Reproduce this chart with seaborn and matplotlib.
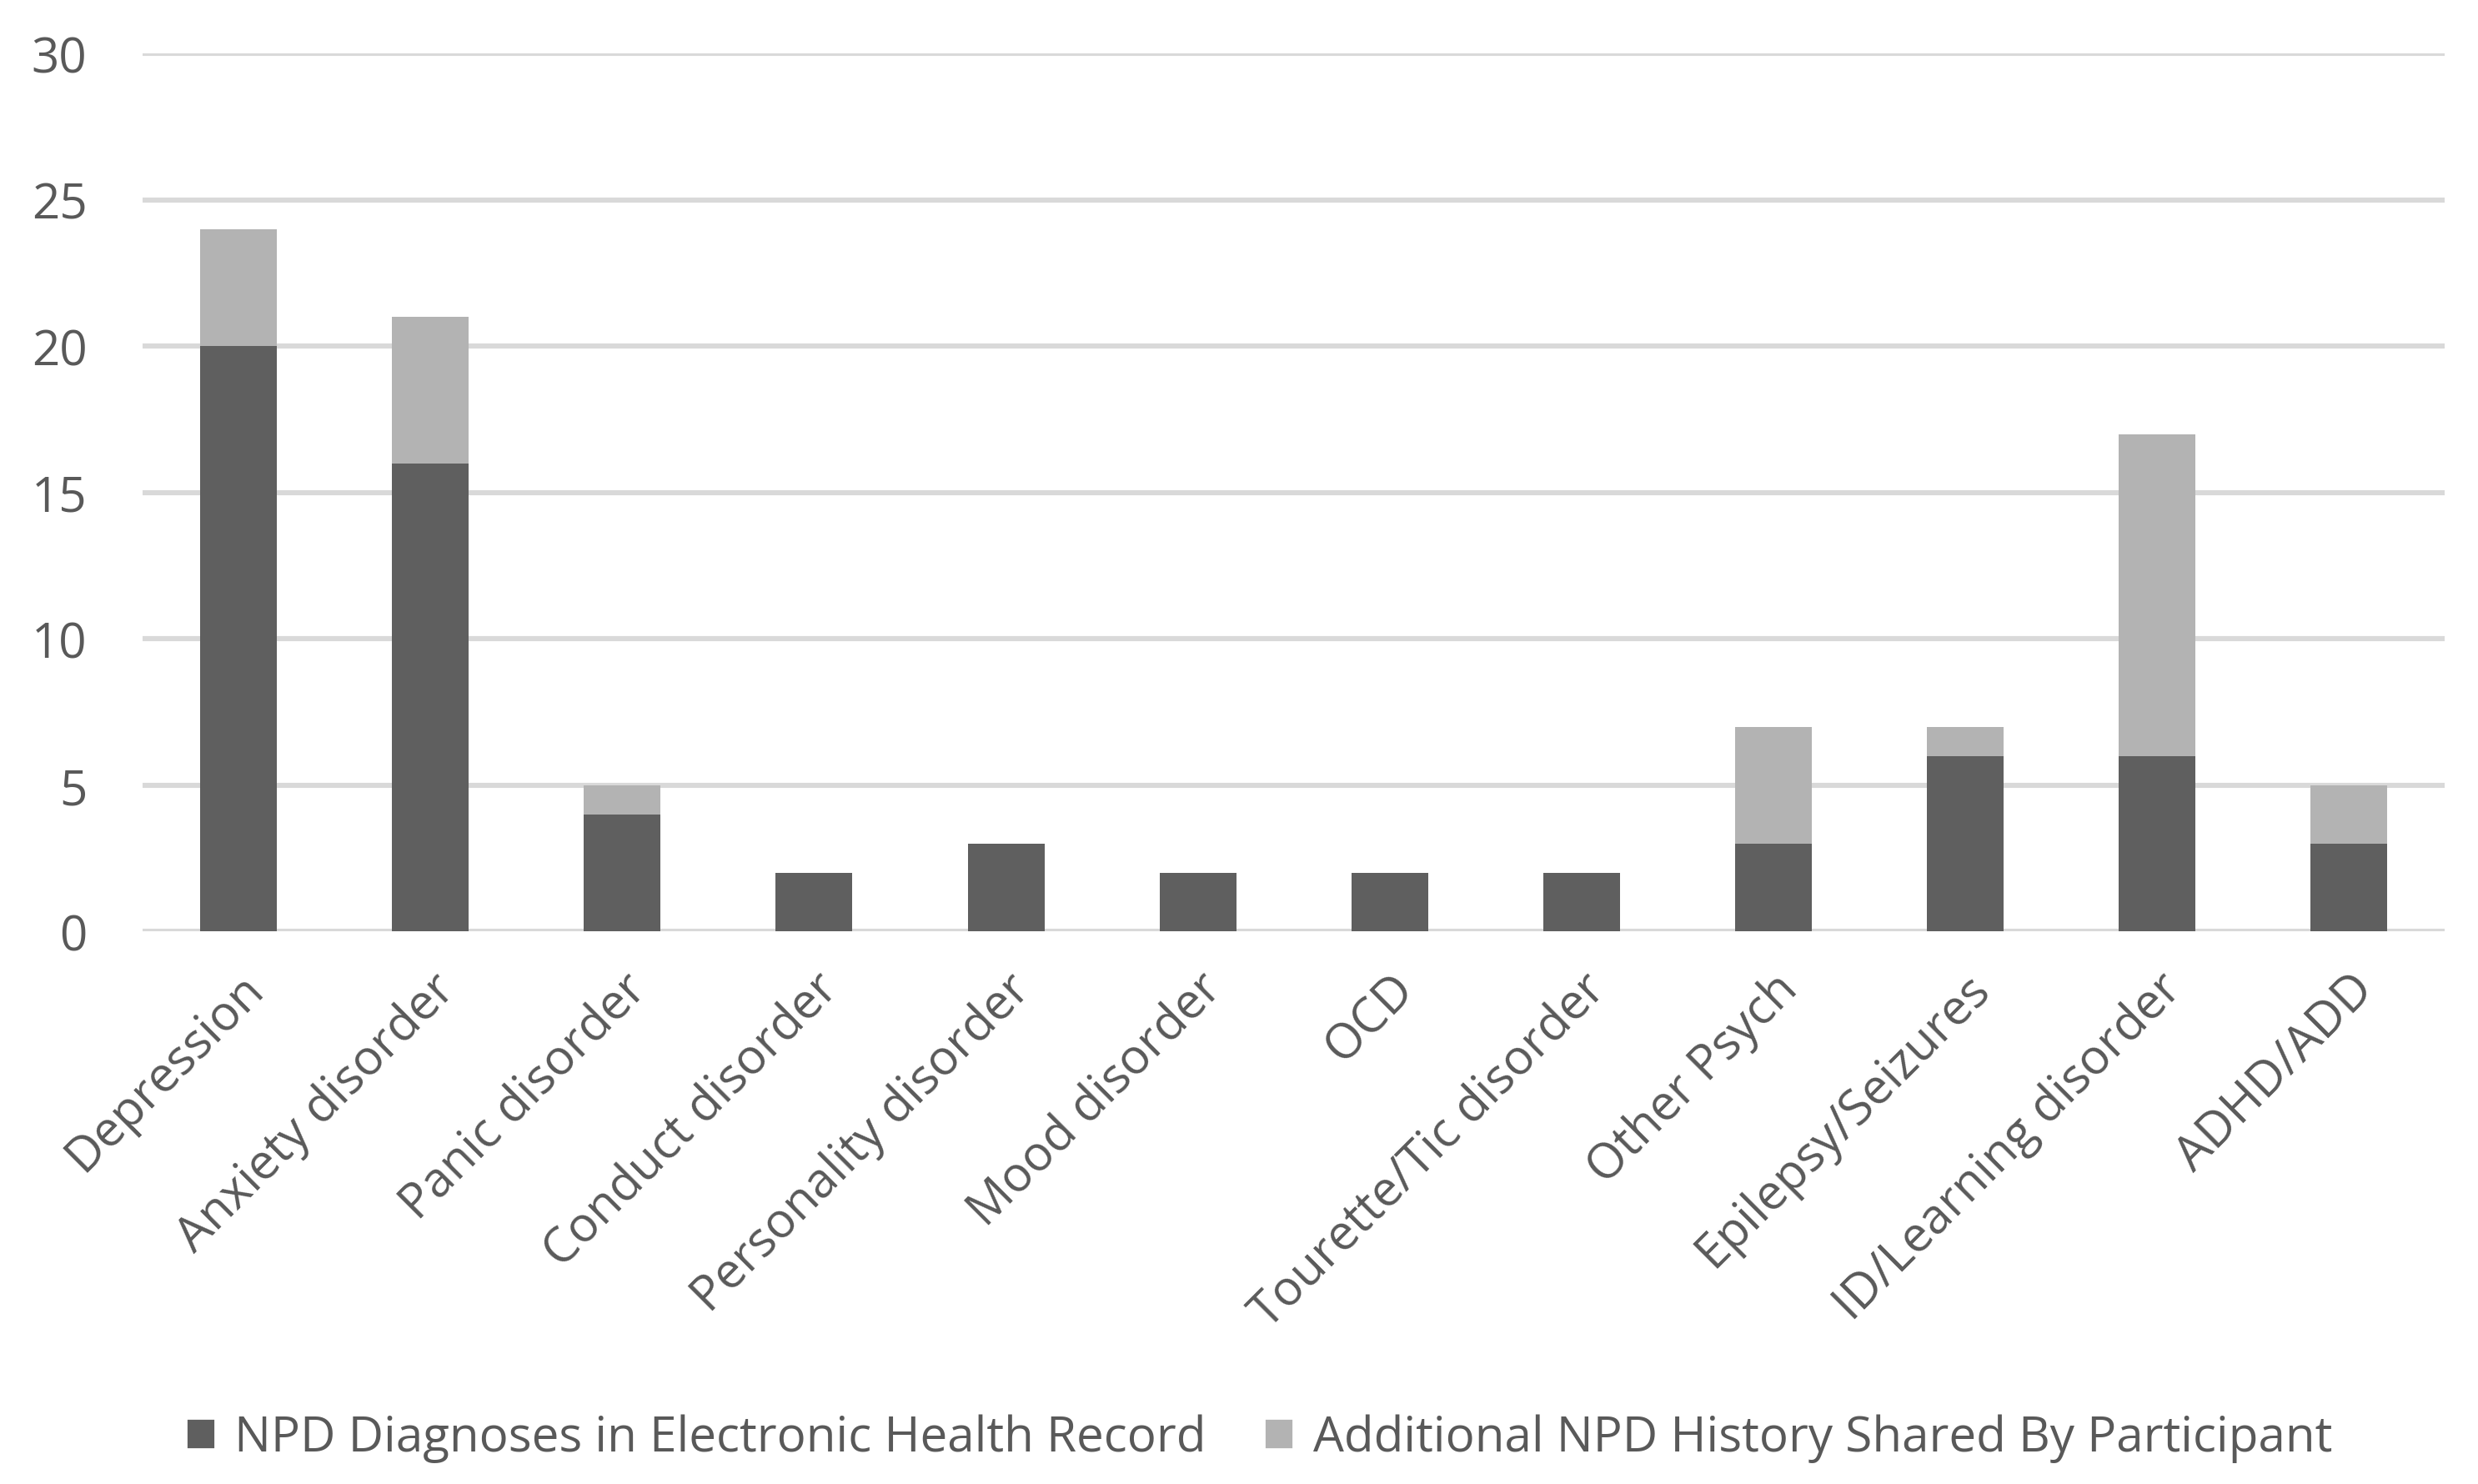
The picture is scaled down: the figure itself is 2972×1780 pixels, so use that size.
import numpy as np
import pandas as pd
import seaborn as sns
import matplotlib.pyplot as plt
from matplotlib.patches import Patch

# Data
categories = ['Depression', 'Anxiety disorder', 'Panic disorder', 'Conduct disorder',
              'Personality disorder', 'Mood disorder', 'OCD', 'Tourette/Tic disorder',
              'Other Psych', 'Epilepsy/Seizures', 'ID/Learning disorder', 'ADHD/ADD']
ehr_counts = [20, 16, 4, 2, 3, 2, 2, 2, 3, 6, 6, 3]
additional_counts = [4, 5, 1, 0, 0, 0, 0, 0, 4, 1, 11, 2]
series_names = ['NPD Diagnoses in Electronic Health Record',
                'Additional NPD History Shared By Participant']

dark = '#5f5f5f'
light = '#b3b3b3'
text_col = '#595959'

df = pd.DataFrame({'category': categories, 'ehr': ehr_counts, 'additional': additional_counts})
df['total'] = df['ehr'] + df['additional']

sns.set_style('white')
plt.rcParams['font.family'] = ['Open Sans', 'DejaVu Sans']

fig = plt.figure(figsize=(14.86, 8.905), dpi=200)
ax = fig.add_axes([0.0576, 0.372, 0.9290, 0.5915])

# stacked bars: total in light, EHR part on top in dark
sns.barplot(data=df, x='category', y='total', color=light, width=0.4,
            saturation=1, linewidth=0, ax=ax, zorder=3)
sns.barplot(data=df, x='category', y='ehr', color=dark, width=0.4,
            saturation=1, linewidth=0, ax=ax, zorder=4)

ax.set_ylim(0, 30)
ax.set_yticks(range(0, 31, 5))
ax.set_xlim(-0.5, len(categories) - 0.5)
ax.yaxis.grid(True, color='#d9d9d9', linewidth=2.2, zorder=0)
ax.set_axisbelow(True)
for s in ax.spines.values():
    s.set_visible(False)
ax.set_xlabel('')
ax.set_ylabel('')

ax.tick_params(axis='y', length=0, pad=24, labelsize=21, labelcolor=text_col)
ax.tick_params(axis='x', length=0, pad=14, labelsize=21, labelcolor=text_col)
ax.set_xticks(range(len(categories)))
ax.set_xticklabels(categories, rotation=45, ha='right', rotation_mode='anchor')

handles = [Patch(facecolor=dark, label=series_names[0]),
           Patch(facecolor=light, label=series_names[1])]
leg = fig.legend(handles=handles, loc='center', bbox_to_anchor=(0.508, 0.031), ncol=2,
                 frameon=False, fontsize=21, handlelength=0.6, handleheight=0.6,
                 handletextpad=0.4, columnspacing=1.2)
for t in leg.get_texts():
    t.set_color(text_col)

plt.savefig('out.png', dpi=200)
